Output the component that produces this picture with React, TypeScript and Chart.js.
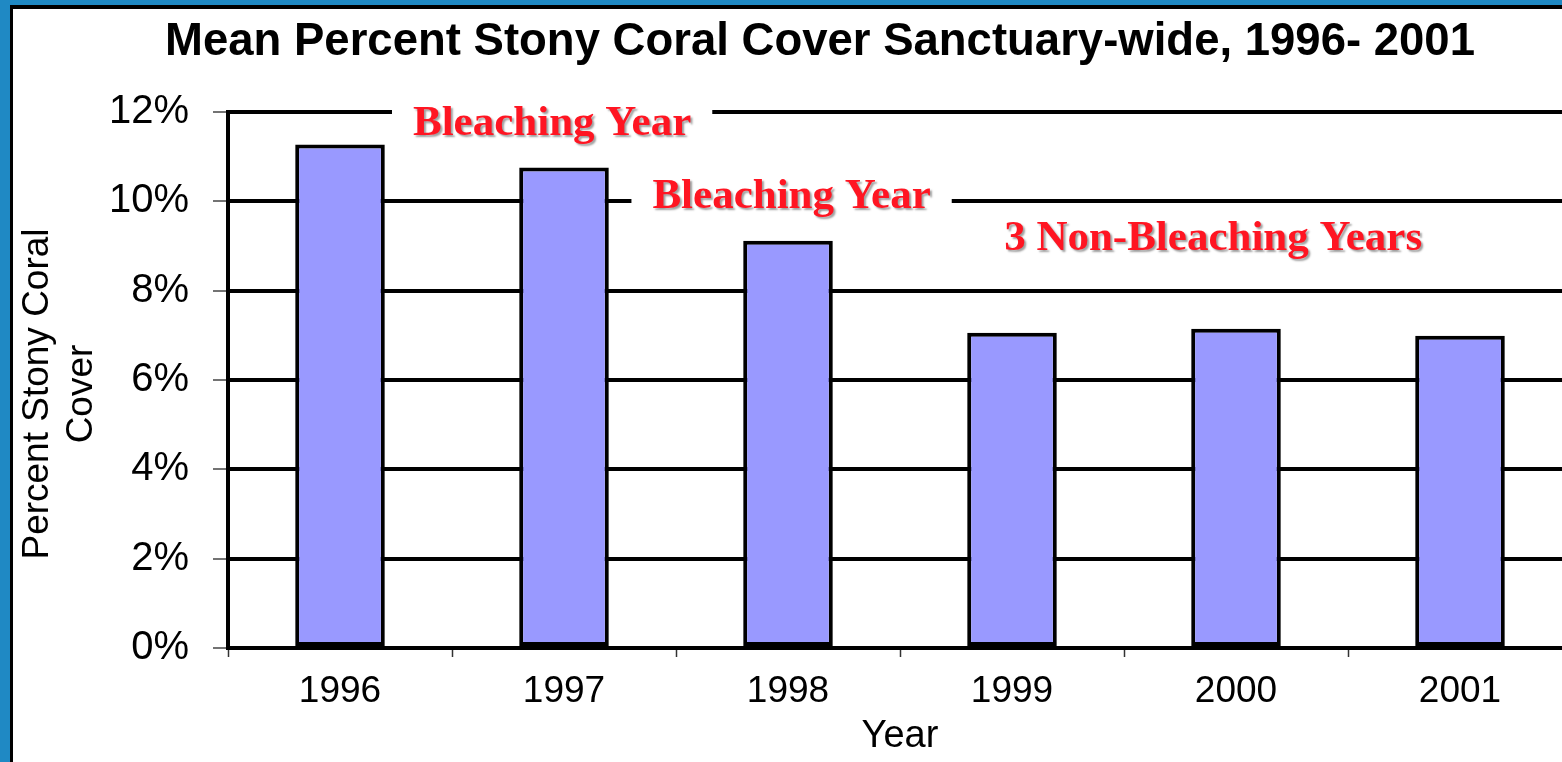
import React, { useEffect, useRef } from "react";
import { Chart, registerables } from "chart.js";

Chart.register(...registerables);

const years = ["1996", "1997", "1998", "1999", "2000", "2001"];
const coverPercent = [11.27, 10.76, 9.12, 7.06, 7.15, 6.99];
const yTickValues = [0, 2, 4, 6, 8, 10, 12];
const chartTitle = "Mean Percent Stony Coral Cover Sanctuary-wide, 1996- 2001";
const yAxisTitle = ["Percent Stony Coral", "Cover"];
const xAxisTitle = "Year";
const noteTexts = ["Bleaching Year", "Bleaching Year", "3 Non-Bleaching Years"];
const noteCategoryPos = [0.947, 2.016, 3.898];
const noteValuePos = [11.48, 9.85, 8.91];
const noteHasBackground = [true, true, false];

const SANS = '"Liberation Sans", Arial, Helvetica, sans-serif';
const SERIF = '"Liberation Serif", "Times New Roman", serif';

const titlePlugin = {
  id: "customTitle",
  afterDraw(chart: any) {
    const ctx = chart.ctx;
    ctx.save();
    ctx.font = `bold 45.5px ${SANS}`;
    ctx.fillStyle = "#000";
    ctx.textAlign = "center";
    ctx.textBaseline = "alphabetic";
    ctx.fillText(chartTitle, 820, 55);
    // y axis title (two lines, rotated)
    ctx.font = `37px ${SANS}`;
    ctx.textBaseline = "middle";
    ctx.translate(0, 394);
    ctx.rotate(-Math.PI / 2);
    ctx.fillText(yAxisTitle[0], 0, 38);
    ctx.fillText(yAxisTitle[1], 0, 82);
    ctx.restore();
  },
};

const notesPlugin = {
  id: "notes",
  beforeDatasetsDraw(chart: any) {
    const ctx = chart.ctx;
    const xs = chart.scales.x;
    const ys = chart.scales.y;
    ctx.save();
    ctx.font = `bold 43px ${SERIF}`;
    ctx.textAlign = "center";
    ctx.textBaseline = "alphabetic";
    noteTexts.forEach((t, i) => {
      const x = xs.getPixelForValue(noteCategoryPos[i]);
      const y = ys.getPixelForValue(noteValuePos[i]);
      const w = ctx.measureText(t).width;
      if (noteHasBackground[i]) {
        ctx.shadowColor = "transparent";
        ctx.fillStyle = "#ffffff";
        ctx.fillRect(x - w / 2 - 21, y - 42, w + 42, 56);
      }
      ctx.shadowColor = "rgba(0,0,0,0.38)";
      ctx.shadowOffsetX = 2;
      ctx.shadowOffsetY = 2;
      ctx.shadowBlur = 2;
      ctx.fillStyle = "#FF1522";
      ctx.fillText(t, x, y);
      ctx.shadowColor = "transparent";
      ctx.shadowOffsetX = 0;
      ctx.shadowOffsetY = 0;
      ctx.shadowBlur = 0;
    });
    ctx.restore();
  },
};

export default function App() {
  const ref = useRef<HTMLCanvasElement>(null);

  useEffect(() => {
    if (!ref.current) return;
    const chart = new Chart(ref.current, {
      type: "bar",
      data: {
        labels: years,
        datasets: [
          {
            data: coverPercent,
            backgroundColor: "#9999FF",
            borderColor: "#000000",
            borderWidth: 4,
            borderSkipped: false,
            categoryPercentage: 1,
            barPercentage: 0.4,
          },
        ],
      },
      options: {
        responsive: false,
        animation: false,
        layout: { padding: { top: 112, left: 0, right: 0, bottom: 0 } },
        plugins: {
          legend: { display: false },
          tooltip: { enabled: false },
          title: { display: false },
        },
        scales: {
          x: {
            offset: true,
            afterFit: (s: any) => {
              s.height = 114;
            },
            grid: {
              display: true,
              drawOnChartArea: false,
              drawTicks: true,
              offset: true,
              tickLength: 9,
              tickWidth: 1.5,
              tickColor: "#333",
            },
            border: { display: true, color: "#000", width: 4 },
            ticks: {
              color: "#000",
              font: { family: SANS, size: 37 },
              padding: 13,
              maxRotation: 0,
            },
            title: {
              display: true,
              text: xAxisTitle,
              color: "#000",
              font: { family: SANS, size: 38, lineHeight: 1.2 },
              padding: { top: 0, bottom: 3 },
            },
          },
          y: {
            min: 0,
            max: 12,
            afterFit: (s: any) => {
              s.width = 228;
            },
            afterBuildTicks: (s: any) => {
              s.ticks = yTickValues.map((v) => ({ value: v }));
            },
            grid: {
              color: "#000",
              lineWidth: 4,
              drawTicks: true,
              tickLength: 15,
              tickWidth: 1.5,
              tickColor: "#444",
            },
            border: { display: true, color: "#000", width: 4 },
            ticks: {
              color: "#000",
              font: { family: SANS, size: 40 },
              padding: 24,
              callback: (v: any) => `${v}%`,
            },
            title: { display: false },
          },
        },
      },
      plugins: [notesPlugin, titlePlugin],
    } as any);
    return () => chart.destroy();
  }, []);

  return (
    <div
      style={{
        position: "fixed",
        left: 0,
        top: 0,
        width: 1562,
        height: 762,
        overflow: "hidden",
        background: "#fff",
      }}
    >
      <canvas
        ref={ref}
        width={1572}
        height={762}
        style={{ position: "absolute", left: 0, top: 0, width: 1572, height: 762 }}
      />
      <div
        style={{
          position: "absolute",
          left: 0,
          top: 0,
          width: 1600,
          height: 800,
          borderTop: "5px solid #1F89C4",
          borderLeft: "10px solid #1F89C4",
          boxSizing: "border-box",
          pointerEvents: "none",
        }}
      >
        <div
          style={{
            width: "100%",
            height: "100%",
            borderTop: "4px solid #000",
            borderLeft: "3px solid #000",
            boxSizing: "border-box",
          }}
        />
      </div>
    </div>
  );
}
